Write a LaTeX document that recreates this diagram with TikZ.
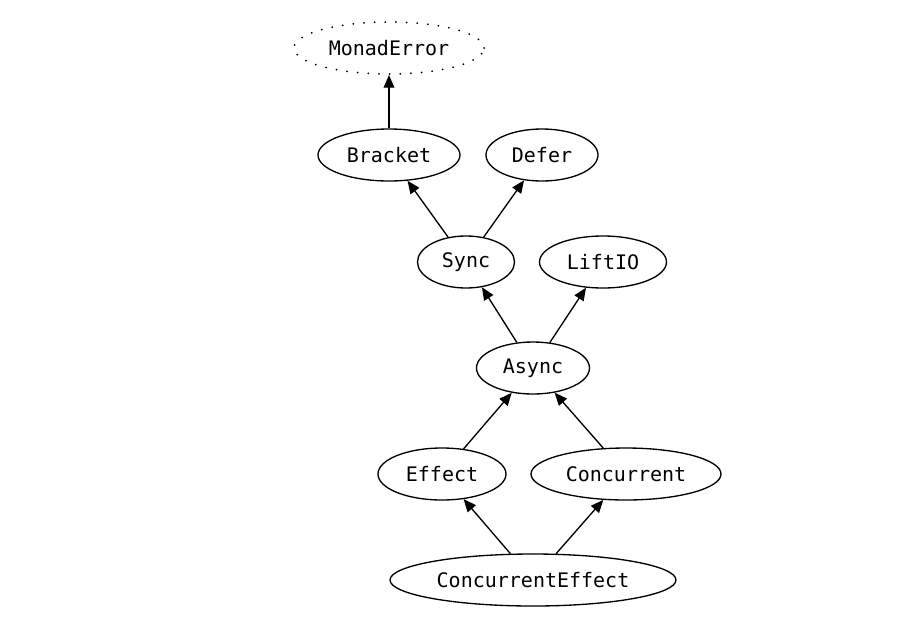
\documentclass[tikz,border=0pt]{standalone}
\usepackage{fontspec}
\setmonofont{DejaVu Sans Mono}
\usetikzlibrary{shapes.geometric,arrows.meta}
\tikzset{
  cls/.style={ellipse, draw, line width=1pt, inner sep=0pt,
    font=\ttfamily\fontsize{15}{17}\selectfont, minimum height=39pt},
  ext/.style={cls, line width=1.5pt, dash pattern=on 0pt off 8pt, line cap=round},
  inh/.style={line width=1pt, -{Triangle[length=9.5pt,width=8pt]}}
}
\begin{document}
\begin{tikzpicture}[x=0.75pt,y=-0.75pt]
\useasboundingbox (0,0) rectangle (920,640);
\node[ext, minimum width=190*0.75pt] (me) at (389,48) {MonadError};
\node[cls, minimum width=142*0.75pt] (br) at (389,155) {Bracket};
\node[cls, minimum width=112*0.75pt] (de) at (542,155) {Defer};
\node[cls, minimum width=97*0.75pt] (sy) at (466,262) {Sync};
\node[cls, minimum width=127*0.75pt] (li) at (603,262) {LiftIO};
\node[cls, minimum width=113*0.75pt] (as) at (533,368) {Async};
\node[cls, minimum width=128*0.75pt] (ef) at (442,474) {Effect};
\node[cls, minimum width=190*0.75pt] (co) at (626,474) {Concurrent};
\node[cls, minimum width=286*0.75pt] (ce) at (533,580) {ConcurrentEffect};
\draw[inh] (br) -- (me);
\draw[inh] (sy) -- (br);
\draw[inh] (sy) -- (de);
\draw[inh] (as) -- (sy);
\draw[inh] (as) -- (li);
\draw[inh] (ef) -- (as);
\draw[inh] (co) -- (as);
\draw[inh] (ce) -- (ef);
\draw[inh] (ce) -- (co);
\end{tikzpicture}
\end{document}
